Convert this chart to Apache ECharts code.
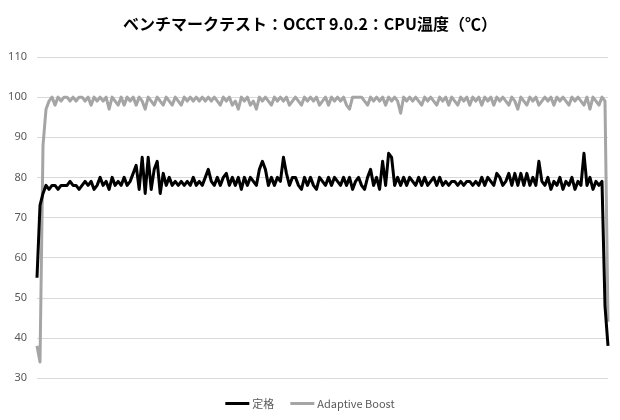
<!DOCTYPE html>
<html><head><meta charset="utf-8">
<script src="https://cdn.jsdelivr.net/npm/echarts@6/dist/echarts.min.js"></script>
<style>html,body{margin:0;padding:0;background:#fff}#c{width:620px;height:420px}</style>
</head><body><div id="c"></div>
<script>
var titleText = 'ベンチマークテスト：OCCT 9.0.2：CPU温度（℃）';
var seriesNames = ['定格', 'Adaptive Boost'];
var yTicks = [30, 40, 50, 60, 70, 80, 90, 100, 110];
var teikaku = [
55,73,76,78,77,78,78,77,78,78,
78,79,78,78,77,78,79,78,79,77,
78,80,78,79,77,80,78,79,78,80,
78,79,81,83,77,85,76,85,77,82,
84,76,81,78,80,78,79,78,79,78,
79,78,80,78,79,78,80,82,79,78,
80,78,80,81,78,80,78,80,77,80,
78,80,79,78,82,84,82,78,80,78,
80,79,85,81,78,80,80,78,77,80,
78,80,78,77,80,79,78,80,78,80,
79,78,80,78,80,77,79,80,78,77,
80,82,78,80,77,84,78,86,85,78,
80,78,80,78,80,79,78,80,78,80,
78,79,80,78,80,78,79,78,79,79,
78,79,78,79,79,78,79,78,80,78,
80,79,78,81,80,78,79,81,78,81,
78,81,78,81,78,80,78,84,79,78,
80,77,79,78,80,77,79,78,80,77,
79,78,86,78,80,77,79,78,79,48,
38];
var adaptive = [
38,34,88,97,99,100,98,100,99,100,
100,99,100,99,100,100,99,100,98,100,
99,100,99,100,97,100,99,98,100,98,
100,99,100,98,100,99,97,100,99,98,
100,99,98,100,99,98,100,99,98,100,
99,100,99,100,99,100,99,100,99,100,
99,98,100,99,100,98,99,97,100,99,
100,98,99,97,100,99,100,99,98,100,
99,100,99,100,98,99,100,99,98,100,
99,100,99,100,98,99,100,98,100,99,
100,99,100,98,97,100,100,100,100,99,
98,100,99,100,99,100,98,100,99,100,
99,96,100,99,100,99,100,99,98,100,
99,100,99,98,100,99,100,98,100,99,
98,100,99,100,98,100,99,100,98,100,
99,100,98,100,99,100,99,98,100,99,
97,100,99,98,100,99,100,98,99,100,
99,100,98,100,99,100,99,98,100,99,
100,99,98,100,97,100,99,98,100,99,
44];
var categories = teikaku.map(function(_, i){ return String(i + 1); });

var chart = echarts.init(document.getElementById('c'), null, {renderer: 'canvas'});
chart.setOption({
  animation: false,
  backgroundColor: '#ffffff',
  title: {
    text: titleText, left: 'center', top: 11,
    textStyle: {fontFamily: 'Noto Sans CJK JP', fontSize: 16, fontWeight: 'bold', color: '#000000'}
  },
  legend: {
    bottom: 6, left: 'center', itemGap: 16, itemWidth: 24, itemHeight: 3, icon: 'rect',
    textStyle: {fontFamily: 'Noto Sans CJK JP', fontSize: 11, color: '#595959', padding: [0,0,0,-2]},
    data: seriesNames
  },
  grid: {left: 37, right: 12, top: 57, bottom: 42, containLabel: false},
  xAxis: {
    type: 'category', data: categories, boundaryGap: false,
    axisLine: {show: false}, axisTick: {show: false}, axisLabel: {show: false}, splitLine: {show: false}
  },
  yAxis: {
    type: 'value', min: yTicks[0], max: yTicks[yTicks.length - 1], interval: 10,
    axisLine: {show: false}, axisTick: {show: false},
    axisLabel: {fontFamily: 'Noto Sans', fontSize: 11, color: '#595959', margin: 10},
    splitLine: {lineStyle: {color: '#d9d9d9', width: 1}}
  },
  series: [
    {name: seriesNames[0], type: 'line', data: teikaku, showSymbol: false, symbol: 'none', z: 3,
     itemStyle: {color: '#000000'}, lineStyle: {color: '#000000', width: 3, join: 'round'}},
    {name: seriesNames[1], type: 'line', data: adaptive, showSymbol: false, symbol: 'none', z: 2,
     itemStyle: {color: '#a5a5a5'}, lineStyle: {color: '#a5a5a5', width: 3, join: 'round'}}
  ]
});
</script></body></html>
